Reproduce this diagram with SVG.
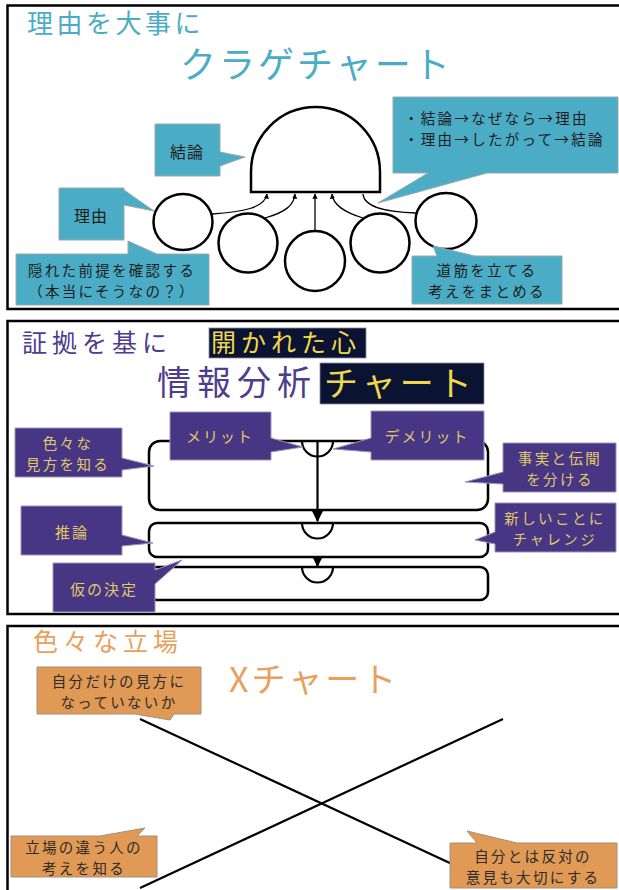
<svg xmlns="http://www.w3.org/2000/svg" width="619" height="890" viewBox="0 0 619 890">
<defs>
<marker id="arr" viewBox="0 0 10 10" refX="9" refY="5" markerWidth="5" markerHeight="5" orient="auto-start-reverse">
<path d="M0,0 L10,5 L0,10 Z" fill="#000"/>
</marker>
<marker id="arr2" viewBox="0 0 10 10" refX="9" refY="5" markerWidth="4" markerHeight="4" orient="auto">
<path d="M0,0 L10,5 L0,10 Z" fill="#000"/>
</marker>
</defs>
<style>
text{font-family:"Noto Sans CJK JP","Noto Sans",sans-serif;}
.panel{fill:#fff;stroke:#000;stroke-width:2.5;}
.blue{fill:#4bacc6;stroke:#9aa8ae;stroke-width:1;}
.purple{fill:#463683;stroke:#9a96b8;stroke-width:1;}
.orange{fill:#e09a55;stroke:#a09080;stroke-width:1;}
.bt{font-size:16px;fill:#1c1c1c;letter-spacing:1.1px;text-anchor:middle;dominant-baseline:central;}
.bt2{font-size:14.5px;fill:#1c1c1c;letter-spacing:2.3px;text-anchor:middle;dominant-baseline:central;}
.pt{font-size:15px;fill:#e2c86a;letter-spacing:2px;text-anchor:middle;dominant-baseline:central;}
.pt2{font-size:14.5px;fill:#e2c86a;letter-spacing:2.4px;text-anchor:middle;dominant-baseline:central;}
.ot{font-size:14.5px;fill:#2e2a26;letter-spacing:2.3px;text-anchor:middle;dominant-baseline:central;}
.shape{fill:#fff;stroke:#000;stroke-width:2.5;}
.conn{fill:none;stroke:#000;stroke-width:1.3;}
.flow{fill:none;stroke:#000;stroke-width:2.2;}
.xl{stroke:#000;stroke-width:2.2;}
</style>

<!-- Panel 1 -->
<g id="panel1">
<rect class="panel" x="7.5" y="5.5" width="620" height="303.5"/>
<text x="27" y="33" font-size="26" fill="#4bacc6" letter-spacing="3.5">理由を大事に</text>
<text x="180" y="78" font-size="36" fill="#4bacc6" letter-spacing="3">クラゲチャート</text>
</g>
<g id="head"><path class="shape" d="M251,192 V172 A64.5,65 0 0 1 380,172 V192 Z"/></g>
<g id="c1"><ellipse class="shape" cx="183" cy="222" rx="29.5" ry="28"/></g>
<g id="c2"><circle class="shape" cx="248" cy="243" r="29.5"/></g>
<g id="c3"><circle class="shape" cx="315" cy="261" r="30"/></g>
<g id="c4"><circle class="shape" cx="380" cy="243" r="29.5"/></g>
<g id="c5"><ellipse class="shape" cx="446" cy="221" rx="30.5" ry="28"/></g>
<g id="connectors1">
<path class="conn" d="M212,214 C242,212 265,208 267,194" marker-end="url(#arr2)"/>
<path class="conn" d="M265,218 C286,212 294,205 295,194" marker-end="url(#arr2)"/>
<path class="conn" d="M315,231 L315,194" marker-end="url(#arr2)"/>
<path class="conn" d="M363,218 C344,212 333,205 332,194" marker-end="url(#arr2)"/>
<path class="conn" d="M416,213 C388,212 364,208 363,194"/>
</g>
<g id="cb-ketsuron">
<path class="blue" d="M155,124 H220 V152 L245,157 L220,166 V176 H155 Z"/>
<text class="bt" x="187" y="151">結論</text>
</g>
<g id="cb-riyuu">
<path class="blue" d="M59,188 H124 V190 L154,211 L124,205 V240 H59 Z"/>
<text class="bt" x="91" y="215">理由</text>
</g>
<g id="cb-zentei">
<path class="blue" d="M16,254 H128 V241 L157,254 H209 V305 H16 Z"/>
<text class="bt2" x="112" y="269">隠れた前提を確認する</text>
<text class="bt2" x="112" y="290">（本当にそうなの？）</text>
</g>
<g id="cb-big">
<path class="blue" d="M393,97 H618 V173 H487 L378,203 L428,173 H393 Z"/>
<text class="bt2" x="404" y="117" style="text-anchor:start">・結論→なぜなら→理由</text>
<text class="bt2" x="404" y="138" style="text-anchor:start">・理由→したがって→結論</text>
</g>
<g id="cb-michisuji">
<path class="blue" d="M412,256 H437 L433,246 L475,256 H562 V304 H412 Z"/>
<text class="bt2" x="487" y="269">道筋を立てる</text>
<text class="bt2" x="487" y="290">考えをまとめる</text>
</g>

<!-- Panel 2 -->
<g id="panel2">
<rect class="panel" x="7.5" y="321" width="620" height="293"/>
<text x="22" y="352" font-size="25" fill="#4d3d8f" letter-spacing="5">証拠を基に</text>
<rect x="209" y="328" width="157" height="30" fill="#0b1333" stroke="#8a8aa0" stroke-width="0.8"/>
<text x="211" y="352" font-size="25" fill="#f0d84a" letter-spacing="5">開かれた心</text>
<text x="157" y="395" font-size="34" fill="#4d3d8f" letter-spacing="6">情報分析</text>
<rect x="320" y="363" width="164" height="41" fill="#0b1333" stroke="#8a8aa0" stroke-width="0.8"/>
<text x="324" y="396" font-size="34" fill="#f0d84a" letter-spacing="4">チャート</text>
</g>
<g id="boxA"><rect class="shape" x="149" y="441" width="339" height="69" rx="11"/><path class="flow" d="M302,441 A15.5,15.5 0 0 0 333,441"/></g>
<g id="boxB"><rect class="shape" x="149" y="523" width="339" height="34" rx="8"/><path class="flow" d="M302,523 A15.5,15.5 0 0 0 333,523"/></g>
<g id="boxC"><rect class="shape" x="149" y="567" width="339" height="33" rx="8"/><path class="flow" d="M302,567 A15.5,15.5 0 0 0 333,567"/></g>
<g id="connectors2">
<path class="flow" d="M317.5,441 V521" marker-end="url(#arr)"/>
<path class="flow" d="M317.5,557 V566" marker-end="url(#arr)"/>
</g>
<g id="pc-merit">
<path class="purple" d="M170,412 H271 V438 L303,447 L271,452 V460 H170 Z"/>
<text class="pt" x="220" y="435">メリット</text>
</g>
<g id="pc-demerit">
<path class="purple" d="M371,411 H484 V460 H371 V452 L333,449 L371,438 Z"/>
<text class="pt" x="427" y="435">デメリット</text>
</g>
<g id="pc-iroiro">
<path class="purple" d="M15,428 H122 V458 L154,466 L122,470 V477 H15 Z"/>
<text class="pt2" x="68" y="442">色々な</text>
<text class="pt2" x="68" y="463">見方を知る</text>
</g>
<g id="pc-jijitsu">
<path class="purple" d="M503,443 H616 V492 H503 V484 L465,482 L503,472 Z"/>
<text class="pt2" x="560" y="457">事実と伝聞</text>
<text class="pt2" x="560" y="478">を分ける</text>
</g>
<g id="pc-suiron">
<path class="purple" d="M21,506 H122 V535 L153,543 L122,546 V555 H21 Z"/>
<text class="pt" x="72" y="531">推論</text>
</g>
<g id="pc-atarashii">
<path class="purple" d="M495,503 H616 V552 H495 V544 L475,540 L495,532 Z"/>
<text class="pt2" x="555" y="517">新しいことに</text>
<text class="pt2" x="555" y="538">チャレンジ</text>
</g>
<g id="pc-kari">
<path class="purple" d="M53,563 H155 V570 L182,560 L155,584 V612 H53 Z"/>
<text class="pt" x="104" y="588">仮の決定</text>
</g>

<!-- Panel 3 -->
<g id="panel3">
<rect class="panel" x="7.5" y="626" width="620" height="280"/>
<text x="33" y="651" font-size="25" fill="#e8a05c" letter-spacing="5">色々な立場</text>
<text x="229" y="692" font-size="34" fill="#e8a05c" letter-spacing="3">Xチャート</text>
</g>
<g id="connectors3">
<line class="xl" x1="140" y1="719" x2="452" y2="864"/>
<line class="xl" x1="503" y1="719" x2="140" y2="888"/>
</g>
<g id="oc-jibun">
<path class="orange" d="M37,667 H201 V714 H174 L170,720 L135,714 H37 Z"/>
<text class="ot" x="119" y="680">自分だけの見方に</text>
<text class="ot" x="119" y="701">なっていないか</text>
</g>
<g id="oc-tachiba">
<path class="orange" d="M11,836 H100 L145,828 L137,836 H157 V877 H11 Z"/>
<text class="ot" x="84" y="846">立場の違う人の</text>
<text class="ot" x="84" y="867">考えを知る</text>
</g>
<g id="oc-hantai">
<path class="orange" d="M450,843 H477 L467,831 L517,843 H617 V888 H450 Z"/>
<text class="ot" x="533" y="855">自分とは反対の</text>
<text class="ot" x="533" y="876">意見も大切にする</text>
</g>
</svg>
